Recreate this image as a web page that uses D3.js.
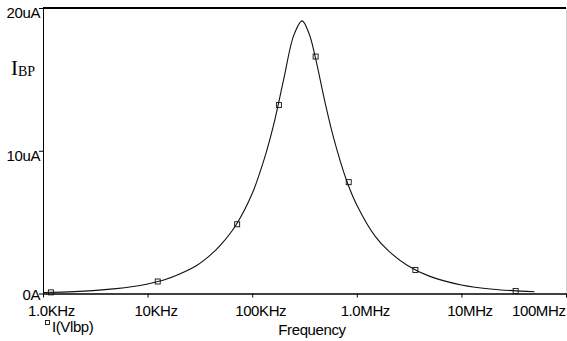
<!DOCTYPE html>
<html>
<head>
<meta charset="utf-8">
<script src="https://cdn.jsdelivr.net/npm/d3@7"></script>
<style>
  body { margin: 0; background: #fff; }
  svg { display: block; }
  .axis text { font-family: "Liberation Sans", Arial, sans-serif; font-size: 15px; letter-spacing: -0.4px; fill: #000; }
</style>
</head>
<body>
<div id="chart"></div>
<script>
// frequency (Hz) and current (uA)
const freqs = [1e3, 2e3, 3e3, 5e3, 7e3, 1e4, 1.5e4, 2e4, 3e4, 4e4, 5e4, 7e4, 1e5, 1.3e5, 1.6e5, 2e5, 2.5e5, 3e5, 3.5e5, 4e5, 5e5, 6e5, 8e5, 1e6, 1.5e6, 2e6, 3e6, 5e6, 1e7, 2e7, 5e7];
const current = [0.07, 0.13, 0.2, 0.34, 0.47, 0.67, 1.0, 1.35, 2.0, 2.7, 3.4, 4.8, 7.0, 9.4, 11.8, 15.0, 18.1, 19.1, 18.2, 16.6, 13.3, 10.9, 7.9, 6.2, 4.0, 3.0, 2.0, 1.2, 0.6, 0.3, 0.12];

// marker squares along the trace
const markFreqs = [1.19e3, 1.25e4, 7.18e4, 1.8e5, 4.04e5, 8.37e5, 3.63e6, 3.3e7];
const markCurrent = [0.08, 0.84, 4.85, 13.2, 16.6, 7.8, 1.65, 0.18];

const xTicks = [1e3, 1e4, 1e5, 1e6, 1e7, 1e8];
const xTickLabels = ["1.0KHz", "10KHz", "100KHz", "1.0MHz", "10MHz", "100MHz"];
const yTicks = [0, 10, 20];
const yTickLabels = ["0A", "10uA", "20uA"];

const W = 567, H = 341;
const margin = {top: 8, right: 1, bottom: 47.5, left: 43};
const width = W - margin.left - margin.right;
const height = H - margin.top - margin.bottom;

const svg = d3.select("#chart")
    .append("svg")
    .attr("width", W)
    .attr("height", H)
    .append("g")
    .attr("transform", `translate(${margin.left}, ${margin.top})`);

const x = d3.scaleLog()
    .domain([1e3, 1e8])
    .range([0, width]);

const y = d3.scaleLinear()
    .domain([0, 20])
    .range([height, 0]);

// right border (light)
svg.append("line")
    .attr("x1", width + 0.5).attr("x2", width + 0.5)
    .attr("y1", 0).attr("y2", height)
    .attr("stroke", "#d0d0d0");

// X axis
const xAxis = svg.append("g")
    .attr("class", "axis")
    .attr("transform", `translate(0, ${height})`)
    .call(d3.axisBottom(x).tickValues(xTicks).tickFormat((d, i) => xTickLabels[i]).tickSize(4).tickSizeOuter(0));
xAxis.select(".domain").attr("stroke", "#000").attr("stroke-width", 1.4);
xAxis.selectAll("text")
    .attr("y", 12)
    .attr("dx", 8)
    .filter((d, i) => i === xTicks.length - 1)
    .attr("text-anchor", "end")
    .attr("dx", -1);

// Y axis
const yAxis = svg.append("g")
    .attr("class", "axis")
    .call(d3.axisLeft(y).tickValues(yTicks).tickFormat((d, i) => yTickLabels[i]).tickSize(4).tickSizeOuter(0));
yAxis.select(".domain").attr("stroke", "#000");
yAxis.selectAll("text")
    .attr("x", -3)
    .attr("dy", d => d === 0 ? "5.5" : "9.5");

// top border
svg.append("line")
    .attr("x1", 0).attr("x2", width)
    .attr("y1", 0).attr("y2", 0)
    .attr("stroke", "#000")
    .attr("stroke-width", 1.8);

// trace
const pts = freqs.map((f, i) => [f, current[i]]);
svg.append("path")
    .datum(pts)
    .attr("fill", "none")
    .attr("stroke", "#111")
    .attr("stroke-width", 1.1)
    .attr("d", d3.line()
        .curve(d3.curveCatmullRom)
        .x(d => x(d[0]))
        .y(d => y(d[1])));

// markers
svg.selectAll(".mk")
    .data(markFreqs.map((f, i) => [f, markCurrent[i]]))
    .join("rect")
    .attr("class", "mk")
    .attr("x", d => x(d[0]) - 2.5)
    .attr("y", d => y(d[1]) - 2.5)
    .attr("width", 5)
    .attr("height", 5)
    .attr("fill", "none")
    .attr("stroke", "#111")
    .attr("stroke-width", 0.9);

// Y label I_BP
const lab = svg.append("text")
    .attr("x", -32)
    .attr("y", 67)
    .style("font-family", "'Liberation Serif', 'Times New Roman', serif")
    .style("font-size", "21px")
    .attr("fill", "#000");
lab.append("tspan").text("I");
lab.append("tspan").attr("dy", 1).style("font-size", "14px").text("BP");

// X label
svg.append("text")
    .attr("x", 312 - margin.left)
    .attr("y", 335 - margin.top)
    .attr("text-anchor", "middle")
    .style("font-family", "'Liberation Sans', Arial, sans-serif")
    .style("font-size", "15px")
    .style("letter-spacing", "-0.4px")
    .text("Frequency");

// legend
svg.append("rect")
    .attr("x", 45.5 - margin.left)
    .attr("y", 320.5 - margin.top)
    .attr("width", 4)
    .attr("height", 4)
    .attr("fill", "none")
    .attr("stroke", "#111")
    .attr("stroke-width", 0.9);
svg.append("text")
    .attr("x", 52 - margin.left)
    .attr("y", 332 - margin.top)
    .style("font-family", "'Liberation Sans', Arial, sans-serif")
    .style("font-size", "15px")
    .style("letter-spacing", "-0.4px")
    .text("I(Vlbp)");
</script>
</body>
</html>
